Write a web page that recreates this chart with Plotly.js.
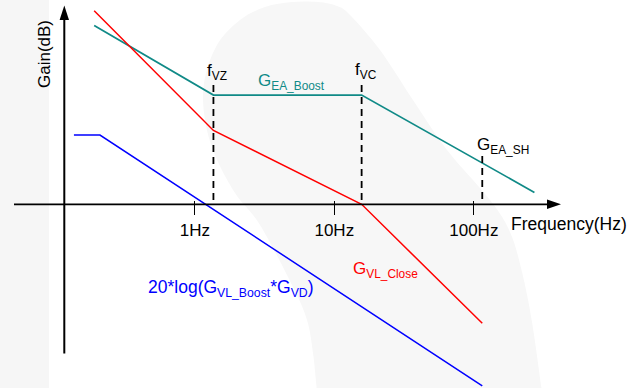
<!DOCTYPE html>
<html>
<head>
<meta charset="utf-8">
<script src="https://cdn.plot.ly/plotly-3.0.1.min.js"></script>
<style>html,body{margin:0;padding:0;background:#fff;}#chart{width:639px;height:388px;}</style>
</head>
<body>
<div id="chart"></div>
<script>
// ---- data (schematic Bode plot, frequency in Hz, gain in dB) ----
const freqClose = [0.19, 1.36, 15.7, 115];
const gainClose = [55.3, 21.1, 0, -34.0];

const freqEA = [0.19, 1.36, 15.7, 272];
const gainEA = [51.1, 31.2, 31.2, 3.4];

const freqPlant = [0.136, 0.209, 115];
const gainPlant = [19.8, 19.8, -51.9];

const markerFreqs = [1.36, 15.7, 115];   // f_VZ, f_VC, G_EA_SH
const markerTops  = [34.1, 34.1, 13.8];

const tickFreqs  = [1, 10, 100];
const tickLabels = ['1Hz', '10Hz', '100Hz'];

// ---- helpers (canvas pixels -> paper) ----
const W = 639, H = 388;
const PX = v => v / W;
const PY = v => 1 - v / H;
const FONT = 'Liberation Sans, Arial, sans-serif';

function smoothPath(pts, close) {
  const p = pts.map(([x, y]) => [PX(x), PY(y)]);
  let d = `M${p[0][0]},${p[0][1]}`;
  for (let i = 0; i < p.length - 1; i++) {
    const p0 = p[i - 1] || p[i], p1 = p[i], p2 = p[i + 1], p3 = p[i + 2] || p2;
    const c1 = [p1[0] + (p2[0] - p0[0]) / 6, p1[1] + (p2[1] - p0[1]) / 6];
    const c2 = [p2[0] - (p3[0] - p1[0]) / 6, p2[1] - (p3[1] - p1[1]) / 6];
    d += ` C${c1[0]},${c1[1]} ${c2[0]},${c2[1]} ${p2[0]},${p2[1]}`;
  }
  return d + (close ? ' Z' : '');
}

const traces = [];
traces.push({x: freqEA, y: gainEA, mode: 'lines', line: {color: '#108a87', width: 1.7}, hoverinfo: 'skip'});
traces.push({x: freqClose, y: gainClose, mode: 'lines', line: {color: '#ff0000', width: 1.5}, hoverinfo: 'skip'});
traces.push({x: freqPlant, y: gainPlant, mode: 'lines', line: {color: '#0000ff', width: 1.5}, hoverinfo: 'skip'});
markerFreqs.forEach((f, i) => {
  traces.push({x: [f, f], y: [markerTops[i], 0], mode: 'lines',
    line: {color: '#000', width: 1.8, dash: '7px,5px'}, hoverinfo: 'skip'});
});

const crescent = [
  [317,392],[313,353],[307,320],[293,287],[260,225],[235,193],[215,155],[205,120],
  [204,83],[217,45],[240,20],[265,7],[292,2],[318,2],[337,6],[350,15],[380,50],
  [413,100],[447,150],[490,200],[510,232],[522,272],[532,322],[542,392]
];

const shapes = [
  {type: 'rect', xref: 'paper', yref: 'paper', x0: 0, x1: PX(49), y0: 0, y1: 1,
   fillcolor: '#f6f6f6', line: {width: 0}, layer: 'below'},
  {type: 'path', xref: 'paper', yref: 'paper', path: smoothPath(crescent, true),
   fillcolor: '#f7f7f7', line: {width: 0}, layer: 'below'},
  // x axis line + arrow
  {type: 'line', xref: 'paper', yref: 'paper', x0: PX(14), x1: PX(550), y0: PY(204.3), y1: PY(204.3),
   line: {color: '#000', width: 1.8}},
  {type: 'path', xref: 'paper', yref: 'paper',
   path: `M${PX(561)},${PY(204.3)} L${PX(547)},${PY(199.6)} L${PX(547)},${PY(209)} Z`,
   fillcolor: '#000', line: {width: 0}},
  // y axis line + arrow
  {type: 'line', xref: 'paper', yref: 'paper', x0: PX(64.3), x1: PX(64.3), y0: PY(353.5), y1: PY(18),
   line: {color: '#000', width: 2}},
  {type: 'path', xref: 'paper', yref: 'paper',
   path: `M${PX(64.3)},${PY(5.5)} L${PX(59.6)},${PY(20)} L${PX(69)},${PY(20)} Z`,
   fillcolor: '#000', line: {width: 0}}
];

function ann(text, x, y, color, extra) {
  return Object.assign({text, xref: 'paper', yref: 'paper', x: PX(x), y: PY(y),
    xanchor: 'left', yanchor: 'middle', showarrow: false,
    font: {family: FONT, size: 17, color}}, extra || {});
}

const annotations = [
  ann('Gain(dB)', 45, 54, '#000', {xanchor: 'center', textangle: -90}),
  ann('f<sub>VZ</sub>', 205, 72, '#000'),
  ann('G<sub>EA_Boost</sub>', 256, 82, '#108a87'),
  ann('f<sub>VC</sub>', 353, 71, '#000'),
  ann('G<sub>EA_SH</sub>', 475, 146, '#000'),
  ann('Frequency(Hz)', 509, 224, '#000', {font: {family: FONT, size: 17.5, color: '#000'}}),
  ann('G<sub>VL_Close</sub>', 351, 270, '#ff0000'),
  ann('20*log(G<sub>VL_Boost</sub>*G<sub>VD</sub>)', 146, 288, '#0000ff', {font: {family: FONT, size: 17.5, color: '#0000ff'}})
];

const layout = {
  width: W, height: H,
  margin: {l: 0, r: 0, t: 0, b: 0, pad: 0},
  paper_bgcolor: '#ffffff',
  plot_bgcolor: 'rgba(0,0,0,0)',
  showlegend: false,
  xaxis: {
    type: 'log', range: [-1.3964, 3.1842], domain: [0, 1],
    anchor: 'free', position: PY(200.3), side: 'bottom',
    showline: false, showgrid: false, zeroline: false,
    ticks: 'outside', ticklen: 14, tickwidth: 1.3, tickcolor: '#000',
    tickvals: tickFreqs, ticktext: tickLabels,
    tickfont: {family: FONT, size: 17, color: '#000'},
    fixedrange: true
  },
  yaxis: {
    range: [-52.486, 58.371], domain: [0, 1],
    visible: false, showgrid: false, zeroline: false, fixedrange: true
  },
  shapes, annotations
};

Plotly.newPlot('chart', traces, layout, {staticPlot: true, displayModeBar: false});
</script>
</body>
</html>
